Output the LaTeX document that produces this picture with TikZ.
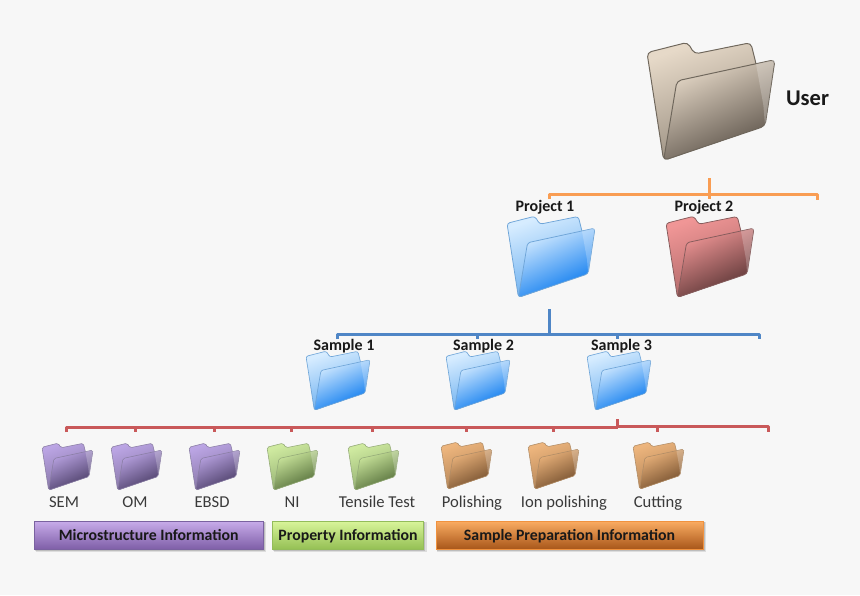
\documentclass[tikz,border=0pt]{standalone}
\usepackage{fontspec}
\setmainfont{Carlito}
\definecolor{bg}{HTML}{F7F7F7}
\definecolor{busO}{HTML}{F99D53}
\definecolor{busB}{HTML}{4F86C6}
\definecolor{busR}{HTML}{C9595A}
\definecolor{lab}{HTML}{3A3A3A}
\definecolor{brL}{HTML}{E6D9C8}\definecolor{brM}{HTML}{93887A}\definecolor{brD}{HTML}{574E45}\definecolor{brE}{HTML}{6F675C}
\definecolor{blL}{HTML}{D6ECFF}\definecolor{blM}{HTML}{5FA8EE}\definecolor{blD}{HTML}{0074EE}\definecolor{blE}{HTML}{6FA5D8}
\definecolor{reL}{HTML}{F09696}\definecolor{reM}{HTML}{A86464}\definecolor{reD}{HTML}{523030}\definecolor{reE}{HTML}{855C5C}
\definecolor{puL}{HTML}{BBA5E4}\definecolor{puM}{HTML}{80709E}\definecolor{puD}{HTML}{453860}\definecolor{puE}{HTML}{8A7EA4}
\definecolor{grL}{HTML}{CFEAA0}\definecolor{grM}{HTML}{8CA86C}\definecolor{grD}{HTML}{4E6835}\definecolor{grE}{HTML}{94AA78}
\definecolor{orL}{HTML}{EDB57D}\definecolor{orM}{HTML}{AE8054}\definecolor{orD}{HTML}{6E4A2A}\definecolor{orE}{HTML}{B08C66}
\definecolor{b1T}{HTML}{C8ACEA}\definecolor{b1B}{HTML}{7F5FA8}\definecolor{b1E}{HTML}{7A62A0}
\definecolor{b2T}{HTML}{D9F59A}\definecolor{b2B}{HTML}{95C055}\definecolor{b2E}{HTML}{93BC5A}
\definecolor{b3T}{HTML}{FBAC62}\definecolor{b3B}{HTML}{A8571A}\definecolor{b3E}{HTML}{F0923F}
\tikzset{
  bus/.style={line width=3pt,line join=round},
  head/.style={font=\fontsize{16}{18}\selectfont\bfseries,text=black!90,inner sep=0pt,anchor=base},
  sub/.style={font=\fontsize{16.6}{18}\selectfont,text=lab,inner sep=0pt,anchor=base},
  bartext/.style={font=\fontsize{15.8}{18}\selectfont\bfseries,text=black!90,inner sep=0pt,anchor=base,yshift=-5pt},
}
% #1 left, #2 top, #3 width, #4 colour family, #5 name
\newcommand{\folderart}[5]{%
  \pgfmathsetmacro{\fs}{#3/385}%
  \pgfmathsetmacro{\fr}{#3/30}%
  \pgfmathsetmacro{\fw}{0.3+#3/190}%
  \begin{scope}[shift={(#1,#2)},x=\fs pt,y=-\fs pt]
    \coordinate (#5) at (190,175);
    \shade[draw=#4E,line width=\fw pt,rounded corners=\fr pt,top color=#4L,bottom color=#4M,shading angle=20]
      (0,32) -- (122,1) -- (143,36) -- (312,2) -- (329,70) -- (355,250) -- (50,356) -- cycle;
    \shade[draw=#4E,line width=\fw pt,rounded corners=\fr pt,top color=#4L,bottom color=#4D,shading angle=25]
      (90,117) -- (385,53) -- (355,253) -- (50,356) -- cycle;
    \fill[white,opacity=0.22] (328,66) -- (384,54) -- (355,252) -- (350,190) -- cycle;
  \end{scope}}
% #1 x0, #2 x1, #3 top, #4 colour family, #5 name
\newcommand{\infobar}[5]{%
  \fill[black,opacity=0.10] (#1+1,#3+1) rectangle (#2+3,#3+31);
  \fill[black,opacity=0.14] (#1+0.5,#3+1) rectangle (#2+1.5,#3+29.5);
  \shade[top color=#4T,bottom color=#4B,draw=#4E,line width=0.9pt] (#1,#3) rectangle (#2,#3+28);
  \coordinate (#5) at ({(#1+#2)/2},#3+14);}
\begin{document}
\begin{tikzpicture}[x=1pt,y=-1pt]
\useasboundingbox (0,0) rectangle (860,595);
\fill[bg] (0,0) rectangle (860,595);
% folders
\folderart{647}{42}{128}{br}{fUser}
\folderart{507}{216}{88}{bl}{fP1}
\folderart{666}{216}{88}{re}{fP2}
\folderart{306}{351}{64}{bl}{fS1}
\folderart{446}{351}{64}{bl}{fS2}
\folderart{587}{351}{64}{bl}{fS3}
\folderart{42}{443}{51}{pu}{fSEM}
\folderart{111}{443}{51}{pu}{fOM}
\folderart{189}{443}{51}{pu}{fEBSD}
\folderart{267}{443}{51}{gr}{fNI}
\folderart{348}{443}{51}{gr}{fTT}
\folderart{441}{442}{51}{or}{fPol}
\folderart{528}{442}{51}{or}{fIon}
\folderart{633}{442}{51}{or}{fCut}
% orange bus
\coordinate (oS) at (709,178);
\coordinate (oLe) at (549.5,199); \coordinate (oLc) at (549.5,194);
\coordinate (oT) at (709,199);
\coordinate (oRc) at (817.5,194); \coordinate (oRe) at (817.5,199.5);
\draw[bus,busO] (oLe) -- (oLc) -- (oRc) -- (oRe);
\draw[bus,busO] (oS) -- (oT);
% blue bus
\coordinate (bS) at (549.5,309); \coordinate (bJ) at (549.5,334);
\coordinate (bLe) at (337,339); \coordinate (bLc) at (337,334);
\coordinate (bRc) at (759,334); \coordinate (bRe) at (759,339);
\coordinate (bA) at (477,334); \coordinate (bAe) at (477,339);
\coordinate (bB) at (617.5,334); \coordinate (bBe) at (617.5,339);
\draw[bus,busB] (bLe) -- (bLc) -- (bRc) -- (bRe);
\draw[bus,busB] (bS) -- (bJ);
\draw[bus,busB] (bA) -- (bAe);
\draw[bus,busB] (bB) -- (bBe);
% red bus
\coordinate (rS) at (617.5,419); \coordinate (rJ) at (617.5,427);
\coordinate (rLe) at (66,432); \coordinate (rLc) at (66,427);
\coordinate (rJr) at (617.5,426); \coordinate (rRc) at (768,426); \coordinate (rRe) at (768,432);
\draw[bus,busR] (rLe) -- (rLc) -- (rJ);
\draw[bus,busR] (rJr) -- (rRc) -- (rRe);
\draw[bus,busR] (rS) -- (rJ);
\foreach \nm/\px in {a/135,b/214,c/291.5,d/372,e/466,f/553.5}{
  \coordinate (rt\nm) at (\px,427); \coordinate (re\nm) at (\px,432);
  \draw[bus,busR] (rt\nm) -- (re\nm);}
\coordinate (rtg) at (657.5,426); \coordinate (reg) at (657.5,432);
\draw[bus,busR] (rtg) -- (reg);
% labels
\node[font=\fontsize{22.5}{24}\selectfont\bfseries,text=black!90,inner sep=0pt,anchor=base] (user) at (807.5,105.5) {User};
\node[head] (p1) at (545,211) {Project 1};
\node[head] (p2) at (704,211) {Project 2};
\node[head] (s1) at (344,350) {Sample 1};
\node[head] (s2) at (483.5,350) {Sample 2};
\node[head] (s3) at (621.5,350) {Sample 3};
\node[sub] (l1) at (64,507) {SEM};
\node[sub] (l2) at (135,507) {OM};
\node[sub] (l3) at (212,507) {EBSD};
\node[sub] (l4) at (292,507) {NI};
\node[sub] (l5) at (377,507) {Tensile Test};
\node[sub] (l6) at (472,507) {Polishing};
\node[sub] (l7) at (564,507.5) {Ion polishing};
\node[sub] (l8) at (658,507) {Cutting};
% bars
\infobar{34.5}{263}{521}{b1}{cA}
\infobar{272.5}{423.5}{521}{b2}{cB}
\infobar{436}{703}{521}{b3}{cC}
\node[bartext] (t1) at (cA) {Microstructure Information};
\node[bartext] (t2) at (cB) {Property Information};
\node[bartext] (t3) at (cC) {Sample Preparation Information};
\end{tikzpicture}
\end{document}
